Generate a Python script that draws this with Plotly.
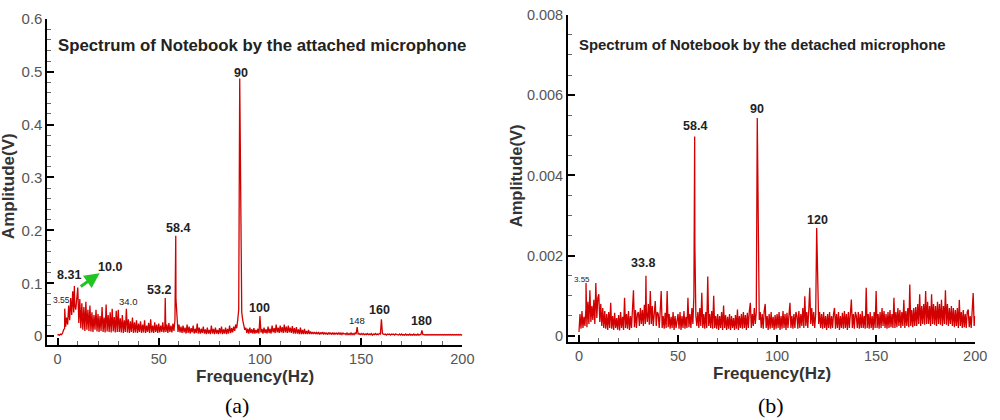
import plotly.graph_objects as go

# ---------------- data: panel (a) attached microphone, amplitude in V, 0.5 Hz grid ----------------
FREQ_STEP = 0.5
amp_a_base = [
    0.002, 0.003, 0.002, 0.004, 0.003, 0.006, 0.012, 0.015, 0.018, 0.035, 0.022, 0.058, 0.030, 0.072, 0.040, 0.085, 0.045, 0.060, 0.050, 0.078,
    0.092, 0.025, 0.070, 0.015, 0.062, 0.012, 0.055, 0.010, 0.065, 0.012, 0.050, 0.010, 0.058, 0.009, 0.045, 0.008, 0.040, 0.012, 0.050, 0.009,
    0.042, 0.008, 0.038, 0.010, 0.055, 0.008, 0.035, 0.007, 0.060, 0.009, 0.040, 0.008, 0.045, 0.007, 0.052, 0.009, 0.036, 0.007, 0.048, 0.008,
    0.050, 0.008, 0.034, 0.007, 0.040, 0.006, 0.030, 0.008, 0.052, 0.007, 0.032, 0.006, 0.028, 0.008, 0.035, 0.006, 0.026, 0.007, 0.030, 0.006,
    0.024, 0.008, 0.028, 0.006, 0.022, 0.007, 0.030, 0.006, 0.020, 0.008, 0.025, 0.006, 0.032, 0.007, 0.020, 0.006, 0.026, 0.008, 0.022, 0.006,
    0.024, 0.007, 0.020, 0.008, 0.026, 0.007, 0.018, 0.008, 0.022, 0.006, 0.025, 0.008, 0.020, 0.007, 0.024, 0.010, 0.030, 0.070, 0.028, 0.008,
    0.022, 0.007, 0.018, 0.006, 0.020, 0.007, 0.016, 0.005, 0.022, 0.006, 0.018, 0.005, 0.015, 0.007, 0.020, 0.005, 0.014, 0.006, 0.024, 0.005,
    0.016, 0.005, 0.014, 0.006, 0.018, 0.005, 0.013, 0.004, 0.016, 0.005, 0.012, 0.004, 0.020, 0.005, 0.014, 0.004, 0.016, 0.005, 0.012, 0.004,
    0.015, 0.005, 0.018, 0.004, 0.013, 0.005, 0.016, 0.004, 0.014, 0.005, 0.020, 0.006, 0.015, 0.007, 0.018, 0.010, 0.022, 0.015, 0.030, 0.050,
    0.487, 0.275, 0.045, 0.030, 0.020, 0.012, 0.016, 0.006, 0.014, 0.005, 0.016, 0.006, 0.013, 0.005, 0.015, 0.005, 0.012, 0.006, 0.014, 0.005,
    0.038, 0.007, 0.014, 0.005, 0.016, 0.006, 0.013, 0.005, 0.018, 0.006, 0.014, 0.005, 0.020, 0.007, 0.015, 0.006, 0.022, 0.007, 0.016, 0.006,
    0.020, 0.007, 0.017, 0.006, 0.022, 0.007, 0.018, 0.006, 0.020, 0.007, 0.016, 0.006, 0.019, 0.005, 0.015, 0.005, 0.017, 0.005, 0.013, 0.004,
    0.016, 0.004, 0.012, 0.004, 0.014, 0.004, 0.010, 0.004, 0.012, 0.004, 0.009, 0.004, 0.008, 0.004, 0.008, 0.004, 0.007, 0.004, 0.008, 0.003,
    0.007, 0.004, 0.008, 0.003, 0.007, 0.004, 0.006, 0.003, 0.007, 0.004, 0.006, 0.003, 0.007, 0.003, 0.006, 0.004, 0.006, 0.003, 0.007, 0.003,
    0.006, 0.003, 0.006, 0.004, 0.005, 0.003, 0.006, 0.003, 0.005, 0.003, 0.006, 0.003, 0.005, 0.003, 0.006, 0.004, 0.017, 0.004, 0.005, 0.003,
    0.005, 0.003, 0.005, 0.003, 0.004, 0.003, 0.005, 0.003, 0.004, 0.003, 0.005, 0.002, 0.004, 0.003, 0.005, 0.003, 0.004, 0.003, 0.005, 0.004,
    0.032, 0.005, 0.004, 0.003, 0.004, 0.002, 0.004, 0.003, 0.004, 0.002, 0.004, 0.003, 0.004, 0.002, 0.004, 0.003, 0.003, 0.002, 0.004, 0.002,
    0.004, 0.002, 0.003, 0.002, 0.004, 0.002, 0.003, 0.002, 0.004, 0.002, 0.003, 0.002, 0.004, 0.002, 0.003, 0.002, 0.004, 0.002, 0.003, 0.003,
    0.011, 0.003, 0.003, 0.002, 0.003, 0.002, 0.003, 0.002, 0.003, 0.002, 0.003, 0.002, 0.003, 0.002, 0.003, 0.002, 0.003, 0.002, 0.003, 0.002,
    0.003, 0.002, 0.003, 0.002, 0.003, 0.002, 0.003, 0.002, 0.003, 0.002, 0.003, 0.002, 0.003, 0.002, 0.003, 0.002, 0.003, 0.002, 0.003, 0.002,
    0.003,
]
# off-grid peaks (Hz, V)
peak_a_freq = [3.55, 8.31, 53.2, 58.4]
peak_a_amp = [0.052, 0.095, 0.072, 0.190]

# ---------------- data: panel (b) detached microphone, amplitude in mV, 0.5 Hz grid ----------------
amp_b_base_mV = [
    0.10, 0.55, 0.18, 0.62, 0.20, 0.48, 0.25, 0.70, 0.22, 0.85, 0.30, 1.14, 0.35, 0.75, 0.40, 0.90, 0.30, 1.32, 0.45, 0.95,
    1.04, 0.35, 0.80, 0.25, 0.70, 0.20, 0.62, 0.18, 0.55, 0.15, 0.60, 0.20, 0.83, 0.18, 0.50, 0.15, 0.58, 0.20, 0.45, 0.16,
    0.52, 0.14, 0.60, 0.20, 0.48, 0.15, 0.95, 0.20, 0.55, 0.18, 0.62, 0.15, 0.50, 0.20, 0.58, 1.14, 0.22, 0.65, 0.20, 0.55,
    0.60, 0.25, 0.70, 0.30, 0.65, 0.25, 0.78, 0.30, 0.60, 0.35, 0.80, 0.28, 1.12, 0.30, 0.75, 0.25, 0.70, 0.87, 0.25, 0.60,
    0.55, 0.20, 0.62, 1.12, 0.20, 0.50, 0.18, 0.58, 0.20, 1.12, 0.22, 0.55, 0.18, 0.48, 0.20, 0.60, 0.15, 0.50, 0.20, 0.45,
    0.55, 0.18, 0.60, 0.15, 0.50, 0.20, 0.62, 0.18, 0.48, 0.20, 0.95, 0.22, 0.55, 0.20, 0.70, 0.30, 1.00, 2.30, 0.50, 0.25,
    0.60, 0.20, 0.70, 0.25, 1.08, 0.20, 0.55, 0.18, 0.60, 0.20, 1.48, 0.25, 0.55, 0.20, 0.62, 0.18, 1.00, 0.20, 0.50, 0.18,
    0.55, 0.15, 0.50, 0.20, 0.60, 0.15, 0.76, 0.20, 0.52, 0.15, 0.48, 0.18, 0.55, 0.15, 0.50, 0.20, 0.45, 0.15, 0.52, 0.18,
    0.66, 0.15, 0.50, 0.20, 0.55, 0.18, 0.60, 0.20, 0.52, 0.15, 0.58, 0.20, 0.62, 0.83, 0.20, 0.55, 0.25, 0.70, 0.30, 0.60,
    5.43, 2.20, 0.40, 0.60, 0.20, 0.55, 0.18, 0.62, 0.80, 0.20, 0.50, 0.15, 0.55, 0.18, 0.60, 0.20, 0.48, 0.15, 0.52, 0.18,
    0.55, 0.20, 0.60, 0.15, 0.50, 0.18, 0.62, 0.20, 0.55, 0.15, 0.58, 0.20, 0.60, 0.83, 0.20, 0.50, 0.18, 0.55, 0.20, 0.60,
    0.50, 0.18, 0.62, 0.20, 0.55, 0.25, 0.70, 0.20, 0.99, 0.25, 0.60, 0.20, 0.65, 1.20, 0.30, 0.70, 0.25, 0.60, 0.20, 0.55,
    2.69, 1.40, 0.30, 0.60, 0.20, 0.55, 0.18, 0.60, 0.20, 0.50, 0.15, 0.55, 0.20, 0.60, 0.18, 0.50, 0.20, 0.55, 0.70, 0.18,
    0.55, 0.20, 0.60, 0.15, 0.50, 0.20, 0.58, 0.18, 0.62, 0.20, 0.55, 0.15, 0.60, 0.20, 0.50, 0.91, 0.20, 0.55, 0.18, 0.60,
    0.50, 0.20, 0.60, 0.18, 0.55, 0.20, 0.62, 0.20, 0.50, 0.18, 1.20, 0.20, 0.55, 0.18, 0.60, 0.20, 0.50, 0.15, 0.60, 0.20,
    1.12, 0.20, 0.55, 0.18, 0.60, 0.20, 0.70, 0.25, 0.62, 0.20, 0.55, 0.18, 0.60, 0.20, 0.65, 0.22, 0.55, 0.20, 0.95, 0.20,
    0.60, 0.22, 0.70, 0.25, 0.65, 0.20, 0.60, 0.25, 0.90, 0.20, 0.62, 0.25, 0.70, 0.22, 1.28, 0.25, 0.65, 0.22, 0.70, 0.25,
    0.72, 0.25, 0.80, 0.30, 1.04, 0.25, 0.75, 0.30, 0.80, 0.28, 1.12, 0.30, 0.85, 0.30, 0.75, 0.25, 1.04, 0.30, 0.80, 0.28,
    0.75, 0.25, 0.85, 0.30, 0.80, 0.28, 0.90, 0.25, 0.75, 0.30, 1.14, 0.28, 0.80, 0.25, 0.70, 0.30, 0.75, 0.25, 0.70, 0.22,
    0.65, 0.25, 0.70, 0.20, 0.90, 0.25, 0.60, 0.20, 0.65, 0.22, 0.55, 0.20, 0.60, 0.66, 0.22, 0.50, 0.20, 0.55, 1.07, 0.25,
    0.50,
]
peak_b_freq = [3.55, 33.8, 58.4]
peak_b_amp_mV = [1.32, 1.50, 4.97]

# tick labels
x_ticks = [0, 50, 100, 150, 200]
y_ticks_a = [0, 0.1, 0.2, 0.3, 0.4, 0.5, 0.6]
y_ticklabels_a = ["0", "0.1", "0.2", "0.3", "0.4", "0.5", "0.6"]
y_ticks_b = [0, 0.002, 0.004, 0.006, 0.008]
y_ticklabels_b = ["0", "0.002", "0.004", "0.006", "0.008"]

# peak labels: (text, freq, amp, size, bold)
labels_a = [("90", 90.7, 0.497, 12.5, True), ("58.4", 59.5, 0.204, 12.5, True), ("53.2", 50.0, 0.087, 12.5, True),
            ("8.31", 5.9, 0.116, 12.5, True), ("10.0", 25.9, 0.131, 12.5, True), ("3.55", 1.8, 0.068, 8.5, False),
            ("34.0", 35.1, 0.066, 9.5, False), ("100", 100.0, 0.053, 12.5, True), ("148", 148.0, 0.029, 9.5, False),
            ("160", 159.0, 0.050, 12.5, True), ("180", 180.0, 0.028, 12.5, True)]
labels_b = [("58.4", 58.6, 0.00524, 12.5, True), ("90", 89.8, 0.00565, 12.5, True), ("120", 120.2, 0.00288, 12.5, True),
            ("33.8", 32.4, 0.00182, 12.5, True), ("3.55", 1.5, 0.00141, 8, False)]


def merge(base, pf, pa):
    pts = [(i * FREQ_STEP, v) for i, v in enumerate(base)] + list(zip(pf, pa))
    pts.sort(key=lambda p: p[0])
    return [p[0] for p in pts], [p[1] for p in pts]


fa, va = merge(amp_a_base, peak_a_freq, peak_a_amp)
fb, vb_mV = merge(amp_b_base_mV, peak_b_freq, peak_b_amp_mV)
vb = [v / 1000.0 for v in vb_mV]

RED = "#d20000"
FONT = "Liberation Sans, Arial, sans-serif"

fig = go.Figure()
fig.add_trace(go.Scatter(x=fa, y=va, mode="lines", line=dict(color=RED, width=1.3),
                         xaxis="x", yaxis="y", showlegend=False, hoverinfo="skip"))
fig.add_trace(go.Scatter(x=fb, y=vb, mode="lines", line=dict(color=RED, width=1.3),
                         xaxis="x2", yaxis="y2", showlegend=False, hoverinfo="skip"))

axis_common = dict(showline=True, linecolor="black", linewidth=2, mirror=False,
                   showgrid=False, zeroline=False, ticks="inside", ticklen=7, tickwidth=2,
                   tickcolor="black")
minor_x = dict(ticks="inside", dtick=10, tick0=0, ticklen=4, tickcolor="#666", tickwidth=1)

fig.update_layout(
    width=1000, height=420, autosize=False,
    margin=dict(l=0, r=0, t=0, b=0),
    paper_bgcolor="white", plot_bgcolor="white",
    xaxis=dict(domain=[0.048, 0.468], range=[-5, 200], anchor="y",
               tickvals=x_ticks, ticktext=[str(t) for t in x_ticks], minor=minor_x,
               tickfont=dict(family=FONT, size=14.5, color="#555"), **axis_common),
    yaxis=dict(domain=[0.1786, 0.9762], range=[-0.0166, 0.6], anchor="x",
               tickvals=y_ticks_a, ticktext=y_ticklabels_a,
               minor=dict(ticks="inside", dtick=0.02, tick0=0, ticklen=4, tickcolor="#666", tickwidth=1),
               tickfont=dict(family=FONT, size=15, color="#555"), **axis_common),
    xaxis2=dict(domain=[0.575, 0.987], range=[-5.5, 200], anchor="y2",
                tickvals=x_ticks, ticktext=[str(t) for t in x_ticks], minor=minor_x,
                tickfont=dict(family=FONT, size=14.5, color="#555"), **axis_common),
    yaxis2=dict(domain=[0.1857, 0.9857], range=[-0.00015, 0.008], anchor="x2",
                tickvals=y_ticks_b, ticktext=y_ticklabels_b,
                minor=dict(ticks="inside", dtick=0.0005, tick0=0, ticklen=4, tickcolor="#666", tickwidth=1),
                tickfont=dict(family=FONT, size=14.5, color="#555"), **axis_common),
)

ann = []
C = dict(xanchor="center", yanchor="middle", showarrow=False)
for refs, labels in ((("x", "y"), labels_a), (("x2", "y2"), labels_b)):
    for text, f, a, s, bold in labels:
        ann.append(dict(x=f, y=a, xref=refs[0], yref=refs[1], text=f"<b>{text}</b>" if bold else text,
                        font=dict(family=FONT, size=s, color="#222"), **C))

# green arrow in panel (a)
ann.append(dict(x=20.8, y=0.119, ax=10.7, ay=0.092, xref="x", yref="y", axref="x", ayref="y",
                text="", showarrow=True, arrowhead=2, arrowsize=1, arrowwidth=3, arrowcolor="#22c422"))

# panel titles
ann.append(dict(x=0.2655, y=1 - 37 / 420, xref="paper", yref="paper",
                text="<b>Spectrum of Notebook by the attached microphone</b>",
                font=dict(family=FONT, size=16.8, color="#222"), **C))
ann.append(dict(x=0.772, y=1 - 37 / 420, xref="paper", yref="paper",
                text="<b>Spectrum of Notebook by the detached microphone</b>",
                font=dict(family=FONT, size=14.9, color="#222"), **C))

# axis titles
for xc, yc in ((0.258, 377), (0.781, 374)):
    ann.append(dict(x=xc, y=1 - yc / 420, xref="paper", yref="paper",
                    text="<b>Frequency(Hz)</b>",
                    font=dict(family=FONT, size=17, color="#333"), **C))
for xc, yc, s in ((0.008, 1 - 182 / 420, 17), (0.522, 1 - 171 / 420, 16.5)):
    ann.append(dict(x=xc, y=yc, xref="paper", yref="paper", text="<b>Amplitude(V)</b>",
                    textangle=-90, font=dict(family=FONT, size=s, color="#333"), **C))

# sub-figure labels
SERIF = "Liberation Serif, Times New Roman, serif"
ann.append(dict(x=0.240, y=1 - 407 / 420, xref="paper", yref="paper", text="(a)",
                font=dict(family=SERIF, size=22, color="black"), **C))
ann.append(dict(x=0.780, y=1 - 407 / 420, xref="paper", yref="paper", text="(b)",
                font=dict(family=SERIF, size=22, color="black"), **C))

fig.update_layout(annotations=ann)

POST = (
    "document.body.style.margin='0';document.body.style.padding='0';document.body.style.overflow='hidden';"
    "var gd=document.getElementById('{plot_id}');"
    "gd.style.position='absolute';gd.style.left='0px';gd.style.top='0px';"
)
fig.write_html("out.html", config={"displayModeBar": False}, post_script=POST)
